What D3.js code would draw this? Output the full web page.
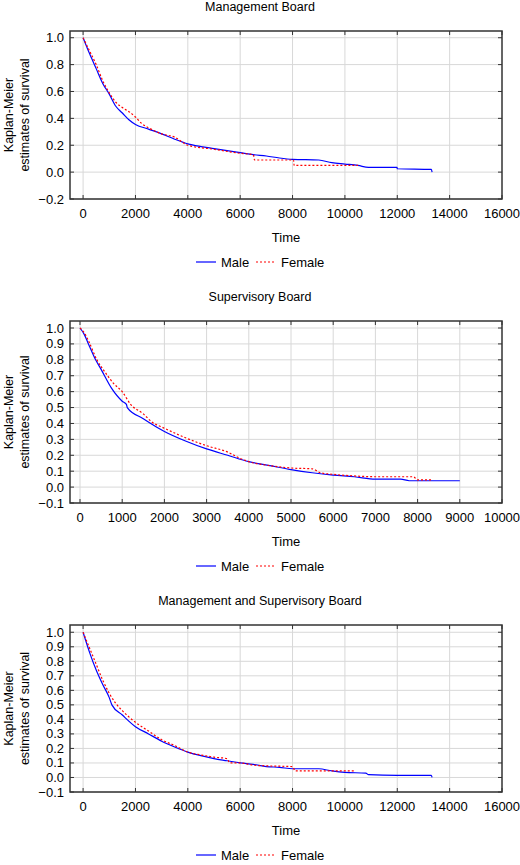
<!DOCTYPE html>
<html><head><meta charset="utf-8">
<script src="https://cdn.jsdelivr.net/npm/d3@7"></script>
<style>body{margin:0;background:#fff}svg{display:block;font-family:"Liberation Sans",Arial,sans-serif}</style>
</head><body><svg id="c" width="520" height="865"></svg>
<script>
const titles = ["Management Board","Supervisory Board","Management and Supervisory Board"];
const seriesNames = ["Male","Female"];
const xTicks1 = [0,2000,4000,6000,8000,10000,12000,14000,16000];
const xTicks2 = [0,1000,2000,3000,4000,5000,6000,7000,8000,9000,10000];
const yTicks1 = [-0.2,0,0.2,0.4,0.6,0.8,1.0];
const yTicks2 = [-0.1,0,0.1,0.2,0.3,0.4,0.5,0.6,0.7,0.8,0.9,1.0];

const male1 = [[0,1],[250,0.88],[500,0.77],[750,0.66],[1000,0.58],[1250,0.49],[1500,0.44],[1750,0.39],[2000,0.355],[2500,0.32],[3000,0.285],[3500,0.245],[4000,0.21],[4500,0.19],[5000,0.175],[5500,0.16],[6000,0.145],[6500,0.13],[7000,0.12],[7500,0.105],[8000,0.095],[9000,0.09],[9500,0.07],[10000,0.06],[10500,0.05],[10900,0.035],[11990,0.035],[12000,0.025],[13300,0.02],[13330,0]];
const female1 = [[0,1],[250,0.9],[500,0.8],[750,0.68],[1000,0.59],[1250,0.52],[1500,0.48],[1750,0.45],[2000,0.41],[2250,0.36],[2500,0.33],[3000,0.285],[3500,0.26],[4000,0.2],[5000,0.17],[6000,0.14],[6500,0.13],[6550,0.09],[8040,0.09],[8060,0.05],[10500,0.05]];
const male2 = [[0,1],[100,0.96],[200,0.9],[370,0.8],[500,0.74],[750,0.62],[1000,0.54],[1100,0.52],[1120,0.5],[1500,0.43],[2000,0.35],[2500,0.29],[3000,0.24],[3500,0.2],[4000,0.16],[4500,0.135],[5000,0.11],[5500,0.09],[6000,0.075],[6500,0.065],[7000,0.05],[7600,0.05],[7800,0.04],[9000,0.04]];
const female2 = [[0,1],[100,0.97],[200,0.92],[400,0.8],[600,0.72],[800,0.65],[1000,0.6],[1200,0.52],[1500,0.46],[1700,0.41],[2000,0.37],[2500,0.31],[3000,0.26],[3500,0.22],[3800,0.18],[4000,0.16],[4500,0.135],[5000,0.12],[5500,0.115],[5700,0.09],[6000,0.08],[6500,0.07],[7000,0.065],[7900,0.065],[8000,0.045],[8350,0.045]];
const male3 = [[0,1],[250,0.86],[500,0.74],[750,0.64],[1000,0.55],[1100,0.5],[1500,0.43],[2000,0.35],[2500,0.3],[3000,0.25],[3500,0.21],[4000,0.175],[4500,0.15],[5000,0.13],[5500,0.115],[6000,0.1],[6500,0.09],[7000,0.075],[7500,0.07],[8000,0.06],[9000,0.06],[9500,0.045],[10000,0.035],[10800,0.03],[10900,0.02],[12000,0.015],[13300,0.015],[13330,0]];
const female3 = [[0,1],[250,0.89],[500,0.78],[750,0.67],[1000,0.58],[1250,0.51],[1500,0.46],[2000,0.38],[2500,0.32],[3000,0.26],[3500,0.22],[4000,0.175],[4500,0.155],[5000,0.14],[5500,0.13],[5600,0.1],[6000,0.1],[6500,0.085],[7000,0.08],[8000,0.075],[8100,0.045],[10400,0.045]];

const panels = [
 {title:titles[0],top:31,bottom:199,xd:[-500,16000],yd:[-0.2,1.05],xt:xTicks1,yt:yTicks1,m:male1,f:female1,ty:7},
 {title:titles[1],top:321,bottom:503,xd:[-237,10000],yd:[-0.1,1.044],xt:xTicks2,yt:yTicks2,m:male2,f:female2,ty:297},
 {title:titles[2],top:625,bottom:792,xd:[-500,16000],yd:[-0.1,1.05],xt:xTicks1,yt:yTicks2,m:male3,f:female3,ty:601}
];
const svg = d3.select("#c");
const L=70,R=502;
panels.forEach(p=>{
  const g=svg.append("g");
  const x=d3.scaleLinear().domain(p.xd).range([L,R]);
  const y=d3.scaleLinear().domain(p.yd).range([p.bottom,p.top]);
  g.append("text").attr("x",260).attr("y",p.ty+4).attr("text-anchor","middle").attr("font-size",12.5).text(p.title);
  g.selectAll(".gx").data(p.xt.filter(v=>x(v)>L+1&&x(v)<R-1)).join("line").attr("x1",d=>x(d)).attr("x2",d=>x(d)).attr("y1",p.top).attr("y2",p.bottom).attr("stroke","#d8d8d8");
  g.selectAll(".gy").data(p.yt).join("line").attr("x1",L).attr("x2",R).attr("y1",d=>y(d)).attr("y2",d=>y(d)).attr("stroke","#d8d8d8");
  const tk=4;
  p.xt.forEach(v=>{[[p.bottom,-tk],[p.top,tk]].forEach(([yy,d])=>g.append("line").attr("x1",x(v)).attr("x2",x(v)).attr("y1",yy).attr("y2",yy+d).attr("stroke","#333"));});
  p.yt.forEach(v=>{[[L,tk],[R,-tk]].forEach(([xx,d])=>g.append("line").attr("x1",xx).attr("x2",xx+d).attr("y1",y(v)).attr("y2",y(v)).attr("stroke","#333"));});
  g.selectAll(".xl").data(p.xt).join("text").attr("x",d=>x(d)).attr("y",p.bottom+19).attr("text-anchor","middle").attr("font-size",13).text(d=>d);
  g.selectAll(".yl").data(p.yt).join("text").attr("x",L-6).attr("y",d=>y(d)+4.5).attr("text-anchor","end").attr("font-size",13).text(d=>d3.format(".1f")(d).replace("-","\u2212"));
  const line=d3.line().x(d=>x(d[0])).y(d=>y(d[1])).curve(d3.curveMonotoneX);
  g.append("path").attr("d",line(p.m)).attr("fill","none").attr("stroke","#0000ff").attr("stroke-width",1.2);
  g.append("path").attr("d",line(p.f)).attr("fill","none").attr("stroke","#ff0000").attr("stroke-width",1.2).attr("stroke-dasharray","2,2");
  g.append("rect").attr("x",L).attr("y",p.top).attr("width",R-L).attr("height",p.bottom-p.top).attr("fill","none").attr("stroke","#333").attr("stroke-width",1.5);
  const cy=(p.top+p.bottom)/2;
  g.append("text").attr("transform",`translate(13,${cy}) rotate(-90)`).attr("text-anchor","middle").attr("font-size",12.5).text("Kaplan-Meier");
  g.append("text").attr("transform",`translate(29,${cy}) rotate(-90)`).attr("text-anchor","middle").attr("font-size",12.5).text("estimates of survival");
  g.append("text").attr("x",286).attr("y",p.bottom+43).attr("text-anchor","middle").attr("font-size",13).text("Time");
  const ly=p.bottom+63;
  g.append("line").attr("x1",196).attr("x2",216).attr("y1",ly).attr("y2",ly).attr("stroke","#0000ff").attr("stroke-width",1.2);
  g.append("text").attr("x",221).attr("y",ly+4.5).attr("font-size",13).text(seriesNames[0]);
  g.append("line").attr("x1",256).attr("x2",276).attr("y1",ly).attr("y2",ly).attr("stroke","#ff0000").attr("stroke-width",1.2).attr("stroke-dasharray","2,2");
  g.append("text").attr("x",281).attr("y",ly+4.5).attr("font-size",13).text(seriesNames[1]);
});
</script></body></html>
